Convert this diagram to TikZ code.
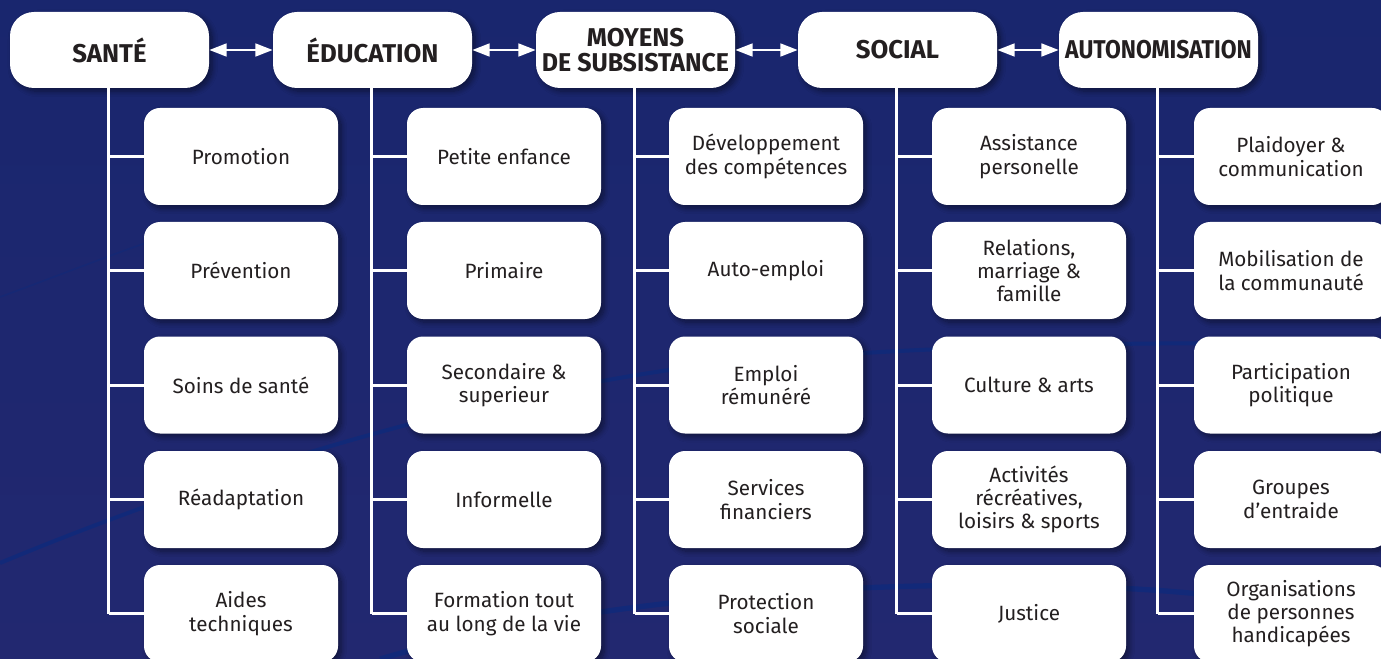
\documentclass[tikz,border=0pt]{standalone}
\usepackage{fontspec}
\usepackage{graphicx}
\setmainfont{Fira Sans}
\usetikzlibrary{arrows.meta,shadows.blur}
\definecolor{bgtop}{RGB}{25,38,110}
\definecolor{bgbot}{RGB}{34,40,112}
\definecolor{swoosh}{RGB}{12,42,125}
\definecolor{txt}{RGB}{35,31,32}
\tikzset{
  boxshadow/.style={blur shadow={shadow xshift=2.5pt, shadow yshift=-2.5pt, shadow opacity=45, shadow blur steps=8, shadow blur radius=4pt}},
  hdr/.style={fill=white, rounded corners=18pt, minimum width=149.25pt, minimum height=57pt,
    inner sep=0pt, text=txt, align=center, boxshadow,
    font=\fontsize{19.3}{19.5}\selectfont\bfseries},
  sub/.style={fill=white, rounded corners=12pt, minimum width=145.5pt, minimum height=72.75pt,
    inner sep=0pt, text=txt, align=center, boxshadow,
    font=\fontsize{15.5}{17.5}\selectfont},
  link/.style={draw=white, line width=2.25pt},
  dbl/.style={draw=white, line width=2pt, {Triangle[length=13pt,width=9.5pt]}-{Triangle[length=13pt,width=9.5pt]}},
  sw/.style={draw=swoosh, line width=3pt, opacity=0.7},
}
\begin{document}
\begin{tikzpicture}[x=0.75pt,y=-0.75pt]
\useasboundingbox (0,0) rectangle (1381,659);
\clip (0,0) rectangle (1381,659);
\fill[top color=bgtop, bottom color=bgbot] (0,0) rectangle (1381,659);
% decorative swooshes
\path[sw] (0,563) .. controls (200,480) and (450,400) .. (690,367) .. controls (900,345) and (1150,340) .. (1381,345);
\path[sw, line width=1.2pt, opacity=0.4] (0,297) .. controls (60,275) and (110,255) .. (160,238);
\path[sw, line width=4pt] (380,659) .. controls (480,630) and (620,600) .. (860,588) .. controls (1000,582) and (1120,586) .. (1200,594);

% headers
\node[hdr] (h1) at (109.5,50) {SANTÉ};
\node[hdr] (h2) at (372.5,50) {ÉDUCATION};
\node[hdr] (h3) at (635.5,50) {MOYENS\\[-0.5pt]\scalebox{0.97}[1]{DE SUBSISTANCE}};
\node[hdr] (h4) at (897.5,50) {SOCIAL};
\node[hdr] (h5) at (1158.5,50) {\scalebox{0.89}[1]{AUTONOMISATION}};

% column 1
\node[sub] (a1) at (241,156.5) {Promotion};
\node[sub] (a2) at (241,270.5) {Prévention};
\node[sub] (a3) at (241,385) {Soins de santé};
\node[sub] (a4) at (241,499.5) {Réadaptation};
\node[sub] (a5) at (241,613.5) {Aides\\techniques};
% column 2
\node[sub] (b1) at (504,156.5) {Petite enfance};
\node[sub] (b2) at (504,270.5) {Primaire};
\node[sub] (b3) at (504,385) {Secondaire \&\\superieur};
\node[sub] (b4) at (504,499.5) {Informelle};
\node[sub] (b5) at (504,613.5) {Formation tout\\au long de la vie};
% column 3
\node[sub] (c1) at (766,156.5) {Développement\\des compétences};
\node[sub] (c2) at (766,270.5) {Auto-emploi};
\node[sub] (c3) at (766,385) {Emploi\\rémunéré};
\node[sub] (c4) at (766,499.5) {Services\\financiers};
\node[sub] (c5) at (766,613.5) {Protection\\sociale};
% column 4
\node[sub] (d1) at (1029,156.5) {Assistance\\personelle};
\node[sub] (d2) at (1029,270.5) {Relations,\\marriage \&\\famille};
\node[sub] (d3) at (1029,385) {Culture \& arts};
\node[sub] (d4) at (1029,499.5) {Activités\\récréatives,\\loisirs \& sports};
\node[sub] (d5) at (1029,613.5) {Justice};
% column 5
\node[sub] (e1) at (1291,156.5) {Plaidoyer \&\\communication};
\node[sub] (e2) at (1291,270.5) {Mobilisation de\\la communauté};
\node[sub] (e3) at (1291,385) {Participation\\politique};
\node[sub] (e4) at (1291,499.5) {Groupes\\d’entraide};
\node[sub] (e5) at (1291,613.5) {Organisations\\de personnes\\handicapées};

% tree connectors
\foreach \h/\c in {h1/a, h2/b, h3/c, h4/d, h5/e}{
  \draw[link] ([xshift=-0.75pt]\h.south) -- ([xshift=-0.75pt]\h.south |- \c5.west);
  \foreach \k in {1,...,5}{
    \draw[link] ([xshift=-0.75pt]\h.south |- \c\k.west) -- (\c\k.west);
  }
}

% arrows between headers
\draw[dbl] (h1.east) -- (h2.west);
\draw[dbl] (h2.east) -- (h3.west);
\draw[dbl] (h3.east) -- (h4.west);
\draw[dbl] (h4.east) -- (h5.west);
\end{tikzpicture}
\end{document}
